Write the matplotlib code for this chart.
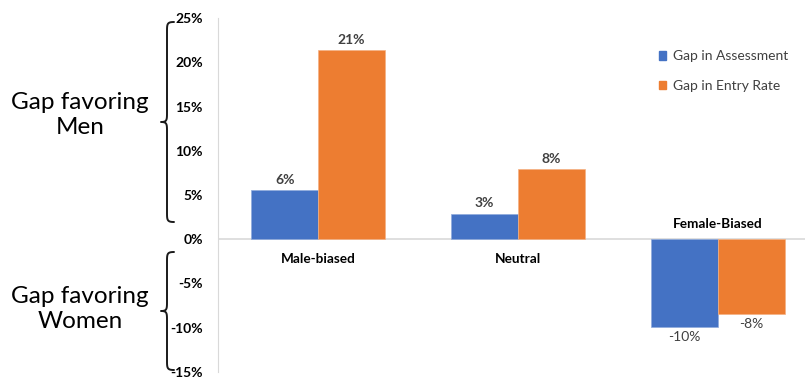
import numpy as np
import matplotlib.pyplot as plt
from matplotlib.lines import Line2D
from matplotlib.patches import Patch

# ── Data ──────────────────────────────────────────────────────────────────────
categories = ["Male-biased", "Neutral", "Female-Biased"]
gap_assessment = [5.6, 2.9, -9.9]
gap_entry = [21.4, 7.9, -8.4]
label_assessment = ["6%", "3%", "-10%"]
label_entry = ["21%", "8%", "-8%"]
series_names = ["Gap in Assessment", "Gap in Entry Rate"]
yticks = [-15, -10, -5, 0, 5, 10, 15, 20, 25]

BLUE = "#4472c4"
ORANGE = "#ed7d31"
GRAY_TXT = "#404040"

plt.rcParams["font.family"] = ["Lato", "DejaVu Sans"]

W, H = 805, 378
fig = plt.figure(figsize=(W / 100, H / 100), dpi=100)

# axes spans x 218..818 px (right edge cut), y 18..373 px
ax = fig.add_axes([218 / W, 6 / H, 600 / W, 354 / H])
ax.set_xlim(-0.5, 2.5)
ax.set_ylim(-15, 25)

x = np.arange(len(categories))
bw = 0.333
b1 = ax.bar(x - bw / 2, gap_assessment, bw, color=BLUE, edgecolor="#8faadc", linewidth=0.5, zorder=3)
b2 = ax.bar(x + bw / 2, gap_entry, bw, color=ORANGE, edgecolor="#f4b183", linewidth=0.5, zorder=3)

for bars, vals, labs in [(b1, gap_assessment, label_assessment), (b2, gap_entry, label_entry)]:
    for rect, v, lab in zip(bars, vals, labs):
        cx = rect.get_x() + rect.get_width() / 2
        if v >= 0:
            ax.annotate(lab, (cx, v), xytext=(0, 3), textcoords="offset points",
                        ha="center", va="bottom", fontsize=10, fontweight="bold", color=GRAY_TXT)
        else:
            ax.annotate(lab, (cx, v), xytext=(0, -3), textcoords="offset points",
                        ha="center", va="top", fontsize=10, color=GRAY_TXT)

for i, (cat, v) in enumerate(zip(categories, gap_entry)):
    if v >= 0:
        ax.annotate(cat, (i, 0), xytext=(0, -14), textcoords="offset points",
                    ha="center", va="center", fontsize=9.8, fontweight="bold", color="black")
    else:
        ax.annotate(cat, (i, 0), xytext=(0, 11), textcoords="offset points",
                    ha="center", va="center", fontsize=9.8, fontweight="bold", color="black")

ax.axhline(0, color="#d9d9d9", linewidth=1.2, zorder=2)
for s in ["top", "right", "bottom"]:
    ax.spines[s].set_visible(False)
ax.spines["left"].set_color("#d9d9d9")
ax.set_xticks([])
ax.set_yticks(yticks)
ax.set_yticklabels([f"{v}%" for v in yticks], fontsize=10, fontweight="bold")
ax.tick_params(axis="y", length=0, pad=11)

handles = [Patch(color=BLUE), Patch(color=ORANGE)]
fig.legend(handles, series_names, loc="upper left", bbox_to_anchor=(646 / W, 1 - 38 / H),
           frameon=False, fontsize=10, handlelength=0.55, handleheight=0.55,
           handletextpad=0.5, labelspacing=1.25, labelcolor=GRAY_TXT)

# ── Braces on the left ────────────────────────────────────────────────────────
def brace(y_top, y_bot, tip_x=174, spine_x=167, point_x=161):
    y_mid = (y_top + y_bot) / 2
    t = np.linspace(0, 1, 30)
    def bez(p0, p1, p2, p3):
        p0, p1, p2, p3 = map(np.array, (p0, p1, p2, p3))
        return ((1 - t)[:, None] ** 3 * p0 + 3 * (1 - t)[:, None] ** 2 * t[:, None] * p1
                + 3 * (1 - t)[:, None] * t[:, None] ** 2 * p2 + t[:, None] ** 3 * p3)
    d = 10
    segs = [
        bez((tip_x, y_top), (spine_x, y_top), (spine_x, y_top + 2), (spine_x, y_top + d)),
        np.array([[spine_x, y_top + d], [spine_x, y_mid - d]]),
        bez((spine_x, y_mid - d), (spine_x, y_mid - 2), (spine_x, y_mid), (point_x, y_mid)),
        bez((point_x, y_mid), (spine_x, y_mid), (spine_x, y_mid + 2), (spine_x, y_mid + d)),
        np.array([[spine_x, y_mid + d], [spine_x, y_bot - d]]),
        bez((spine_x, y_bot - d), (spine_x, y_bot - 2), (spine_x, y_bot), (tip_x, y_bot)),
    ]
    pts = np.vstack(segs)
    fig.add_artist(Line2D(pts[:, 0] / W, 1 - pts[:, 1] / H, transform=fig.transFigure,
                          color="#1a1a1a", linewidth=1.4, solid_capstyle="round"))

brace(22, 222)
brace(252, 370)

fig.text(80 / W, 1 - 115 / H, "Gap favoring\nMen", ha="center", va="center",
         fontsize=17.5, linespacing=1.2, color="black")
fig.text(80 / W, 1 - 309 / H, "Gap favoring\nWomen", ha="center", va="center",
         fontsize=17.5, linespacing=1.2, color="black")

fig.savefig("out.png", dpi=100)
